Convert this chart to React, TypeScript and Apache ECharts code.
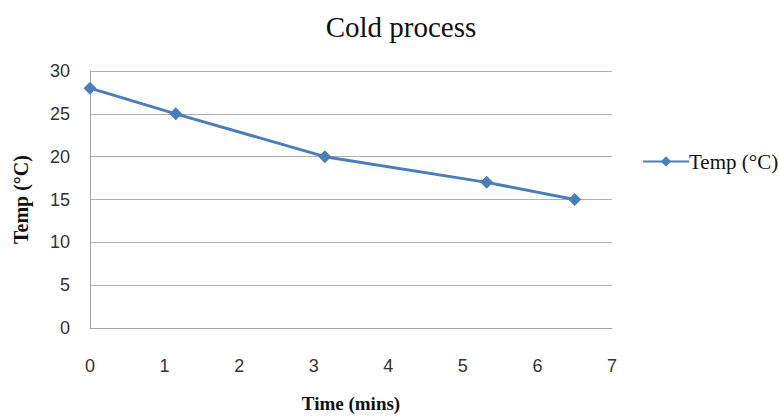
import React, { useEffect, useRef } from "react";
import * as echarts from "echarts";

const timeMins = [0, 1.15, 3.15, 5.32, 6.5];
const tempC = [28, 25, 20, 17, 15];
const seriesName = "Temp (°C)";
const titleText = "Cold process";
const xName = "Time (mins)";
const yName = "Temp (°C)";

export default function App() {
  const ref = useRef<HTMLDivElement>(null);
  useEffect(() => {
    const chart = echarts.init(ref.current!, null, { renderer: "svg" });
    const serif = "'Liberation Serif', 'Times New Roman', serif";
    const sans = "'Liberation Sans', Arial, sans-serif";
    chart.setOption({
      animation: false,
      backgroundColor: "#fff",
      title: {
        text: titleText,
        left: 396,
        textAlign: "center",
        top: 7,
        textStyle: { fontFamily: serif, fontSize: 29, fontWeight: "normal", color: "#111" },
      },
      legend: {
        data: [seriesName],
        left: 637,
        top: 146,
        itemWidth: 46,
        itemHeight: 13,
        itemGap: 4,
        textStyle: { fontFamily: serif, fontSize: 21, color: "#111", padding: [0, 0, 0, -5] },
      },
      grid: { left: 90, right: 167, top: 71, bottom: 91 },
      xAxis: {
        type: "value",
        min: 0,
        max: 7,
        interval: 1,
        name: xName,
        nameLocation: "middle",
        nameGap: 66,
        nameTextStyle: { fontFamily: serif, fontSize: 19, fontWeight: "bold", color: "#111" },
        axisLine: { show: true, lineStyle: { color: "#a6a6a6", width: 1 } },
        axisTick: { show: false },
        splitLine: { show: false },
        axisLabel: { fontFamily: sans, fontSize: 18, color: "#333", margin: 29 },
      },
      yAxis: {
        type: "value",
        min: 0,
        max: 30,
        interval: 5,
        name: yName,
        nameLocation: "middle",
        nameGap: 59,
        nameTextStyle: { fontFamily: serif, fontSize: 20, fontWeight: "bold", color: "#111" },
        axisLine: { show: true, lineStyle: { color: "#a6a6a6", width: 1 } },
        axisTick: { show: false },
        splitLine: { show: true, lineStyle: { color: "#b0b0b0", width: 1 } },
        axisLabel: { fontFamily: sans, fontSize: 18, color: "#333", margin: 20 },
      },
      series: [
        {
          name: seriesName,
          type: "line",
          data: timeMins.map((t, i) => [t, tempC[i]]),
          symbol: "diamond",
          symbolSize: 13,
          lineStyle: { color: "#4a7ebb", width: 3 },
          itemStyle: { color: "#4a7ebb" },
        },
      ],
    });
    return () => chart.dispose();
  }, []);
  return <div ref={ref} style={{ width: 779, height: 419, position: "absolute", left: 0, top: 0 }} />;
}
